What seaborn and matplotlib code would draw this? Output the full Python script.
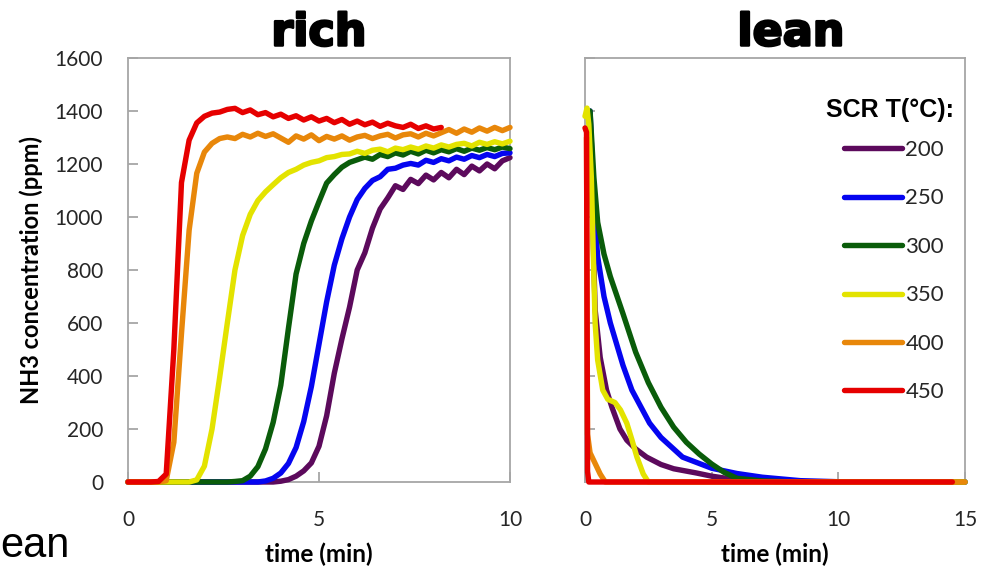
import matplotlib
matplotlib.use("Agg")
import matplotlib.pyplot as plt
import matplotlib.patheffects as pe
import pandas as pd
import seaborn as sns

# SCR temperatures and their line colours
temps = ["200", "250", "300", "350", "400", "450"]
colors = ["#5c0a5c", "#0505f0", "#0a5c0a", "#e3e300", "#e8870a", "#e60000"]

# ---- rich phase: NH3 breakthrough (ppm) sampled every 0.2 min ----
rich_time = [0.0, 0.2, 0.4, 0.6, 0.8, 1.0, 1.2, 1.4, 1.6, 1.8,
             2.0, 2.2, 2.4, 2.6, 2.8, 3.0, 3.2, 3.4, 3.6, 3.8,
             4.0, 4.2, 4.4, 4.6, 4.8, 5.0, 5.2, 5.4, 5.6, 5.8,
             6.0, 6.2, 6.4, 6.6, 6.8, 7.0, 7.2, 7.4, 7.6, 7.8,
             8.0, 8.2, 8.4, 8.6, 8.8, 9.0, 9.2, 9.4, 9.6, 9.8, 10.0]

rich_200 = [0, 0, 0, 0, 0, 0, 0, 0, 0, 0,
            0, 0, 0, 0, 0, 0, 0, 0, 0, 0,
            3, 9, 22, 42, 72, 135, 250, 410, 540, 660,
            800, 865, 958, 1030, 1072, 1118, 1104, 1142, 1126, 1158,
            1140, 1168, 1148, 1180, 1160, 1192, 1174, 1200, 1182, 1212, 1224]
rich_250 = [0, 0, 0, 0, 0, 0, 0, 0, 0, 0,
            0, 0, 0, 0, 0, 0, 0, 0, 4, 14,
            34, 70, 130, 228, 360, 520, 680, 818, 918, 1000,
            1066, 1108, 1138, 1152, 1180, 1184, 1196, 1202, 1196, 1214,
            1206, 1220, 1212, 1226, 1218, 1232, 1224, 1236, 1228, 1240, 1242]
rich_300 = [0, 0, 0, 0, 0, 0, 0, 0, 0, 0,
            0, 0, 0, 0, 2, 5, 22, 58, 125, 225,
            365, 580, 785, 900, 985, 1058, 1128, 1160, 1188, 1206,
            1216, 1226, 1218, 1236, 1228, 1242, 1234, 1248, 1238, 1252,
            1242, 1254, 1246, 1258, 1248, 1260, 1252, 1262, 1254, 1264, 1258]
rich_350 = [0, 0, 0, 0, 0, 0, 0, 0, 0, 8,
            60, 200, 395, 600, 800, 930, 1010, 1062, 1095, 1122,
            1148, 1168, 1180, 1196, 1206, 1212, 1224, 1228, 1236, 1238,
            1248, 1240, 1252, 1256, 1246, 1260, 1254, 1264, 1256, 1268,
            1260, 1272, 1264, 1274, 1278, 1268, 1282, 1274, 1284, 1276, 1286]
rich_400 = [0, 0, 0, 0, 0, 5, 150, 560, 950, 1165,
            1245, 1278, 1296, 1302, 1296, 1312, 1302, 1316, 1304, 1314,
            1298, 1282, 1306, 1294, 1310, 1288, 1304, 1294, 1306, 1290,
            1302, 1308, 1296, 1306, 1312, 1298, 1310, 1314, 1302, 1316,
            1306, 1318, 1330, 1316, 1332, 1320, 1336, 1324, 1338, 1326, 1338]
rich_450 = [0, 0, 0, 0, 2, 30, 500, 1130, 1290, 1355,
            1380, 1392, 1396, 1406, 1410, 1394, 1404, 1386, 1394, 1378,
            1388, 1372, 1382, 1366, 1378, 1362, 1372, 1356, 1368, 1350,
            1362, 1348, 1358, 1342, 1354, 1344, 1338, 1350, 1334, 1344,
            1332, 1338]

# ---- lean phase: NH3 release (ppm) ----
lean_t_200 = [0.2, 0.3, 0.4, 0.6, 0.85, 1.06, 1.38, 1.65, 2.0, 2.43,
              3.0, 3.5, 4.4, 5.0, 6.0, 7.0, 8.0, 15.0]
lean_200 = [1390, 1000, 650, 470, 347, 283, 200, 158, 125, 94,
            66, 50, 34, 22, 8, 2, 0, 0]
lean_t_250 = [0.2, 0.35, 0.5, 0.75, 1.0, 1.5, 1.85, 2.55, 3.0, 3.85,
              5.0, 6.0, 7.0, 8.5, 10.0, 15.0]
lean_250 = [1400, 1050, 850, 700, 600, 440, 347, 222, 168, 94,
            52, 32, 18, 5, 1, 0]
lean_t_300 = [0.2, 0.35, 0.5, 0.75, 1.0, 1.25, 1.5, 2.0, 2.5, 3.0,
              3.5, 4.0, 4.5, 5.0, 5.5, 6.0, 7.0, 8.0, 10.0, 15.0]
lean_300 = [1400, 1150, 980, 860, 775, 705, 635, 490, 375, 282,
            207, 150, 106, 68, 36, 14, 4, 1, 0, 0]
lean_t_350 = [0.0, 0.08, 0.15, 0.25, 0.33, 0.4, 0.5, 0.7, 0.9, 1.18,
              1.4, 1.65, 1.85, 2.05, 2.3, 2.5, 15.0]
lean_350 = [1380, 1411, 1350, 1150, 850, 600, 460, 347, 312, 300,
            272, 222, 160, 94, 30, 0, 0]
lean_t_400 = [0.06, 0.1, 0.2, 0.4, 0.6, 0.8, 15.0]
lean_400 = [1300, 180, 110, 70, 30, 0, 0]
lean_t_450 = [0.0, 0.06, 0.1, 0.15, 14.5]
lean_450 = [1336, 1320, 40, 0, 0]

y_ticks = [0, 200, 400, 600, 800, 1000, 1200, 1400, 1600]
rich_x_ticks = [0, 5, 10]
lean_x_ticks = [0, 5, 10, 15]


def frame(series):
    parts = []
    for temp, (t, v) in zip(temps, series):
        parts.append(pd.DataFrame({"time": t, "nh3": v, "T": temp}))
    return pd.concat(parts, ignore_index=True)


rich_df = frame([(rich_time[:len(v)], v) for v in
                 (rich_200, rich_250, rich_300, rich_350, rich_400, rich_450)])
lean_df = frame([(lean_t_200, lean_200), (lean_t_250, lean_250),
                 (lean_t_300, lean_300), (lean_t_350, lean_350),
                 (lean_t_400, lean_400), (lean_t_450, lean_450)])

sns.set_style("white")
plt.rcParams["font.family"] = ["Lato", "DejaVu Sans"]
plt.rcParams["text.color"] = "black"
plt.rcParams["axes.labelcolor"] = "black"

fig = plt.figure(figsize=(9.86, 5.70), dpi=100)
ax1 = fig.add_axes([128 / 986, 1 - 482 / 570, 382 / 986, 424 / 570])
ax2 = fig.add_axes([585 / 986, 1 - 482 / 570, 380 / 986, 424 / 570])
palette = dict(zip(temps, colors))
line_w = 3.9

for ax, df, xmax, xt in ((ax1, rich_df, 10, rich_x_ticks),
                         (ax2, lean_df, 15, lean_x_ticks)):
    sns.lineplot(data=df, x="time", y="nh3", hue="T", hue_order=temps,
                 palette=palette, estimator=None, sort=False,
                 linewidth=line_w, legend=False, ax=ax)
    for ln in ax.lines:
        ln.set_clip_on(False)
        ln.set_zorder(3)
    ax.set_xlim(0, xmax)
    ax.set_ylim(0, 1600)
    ax.set_xticks(xt)
    ax.set_yticks(y_ticks)
    for sp in ax.spines.values():
        sp.set_visible(True)
        sp.set_color("#a6a6a6")
        sp.set_linewidth(1.3)
    ax.tick_params(axis="both", direction="in", length=7, width=1.3,
                   color="#a6a6a6", labelsize=15, labelcolor="#262626",
                   left=True, bottom=True)
    ax.tick_params(axis="x", pad=20)
    ax.tick_params(axis="y", pad=18)
    ax.set_xlabel("time (min)", fontsize=17.5, fontweight="bold", labelpad=9)

ax1.set_ylabel("NH3 concentration (ppm)", fontsize=17, fontweight="bold",
               labelpad=8)
ax2.set_ylabel("")
ax2.tick_params(axis="y", labelleft=False)

title_fx = [pe.withStroke(linewidth=1.8, foreground="black")]
ax1.set_title("rich", fontsize=32, fontweight="bold", family="DejaVu Sans",
              pad=9, color="black", path_effects=title_fx)
ax2.set_title("lean", fontsize=32, fontweight="bold", family="DejaVu Sans",
              pad=9, x=0.542, color="black", path_effects=title_fx)

# legend entries plus a heading above them
handles = list(ax2.lines[:len(temps)])
leg = ax2.legend(handles, temps, loc="upper right",
                 bbox_to_anchor=((944 - 585) / 380, 1 - (140 - 58) / 424),
                 frameon=False, borderpad=0, borderaxespad=0,
                 handlelength=2.6, handletextpad=0.15, labelspacing=1.28,
                 prop={"family": "Lato", "size": 16})
for h in leg.legend_handles:
    h.set_linewidth(line_w)
for t in leg.get_texts():
    t.set_color("#262626")
ax2.text((954 - 585) / 380, 1 - (110 - 58) / 424, "SCR T(°C):",
         transform=ax2.transAxes, ha="right", va="center",
         family="Liberation Sans", fontweight="bold", fontsize=18,
         color="black")

fig.text(0.0, 1 - 557 / 570, "ean", fontsize=30,
         family="Liberation Sans", va="baseline", ha="left", color="black")

fig.savefig("out.png", dpi=100)
